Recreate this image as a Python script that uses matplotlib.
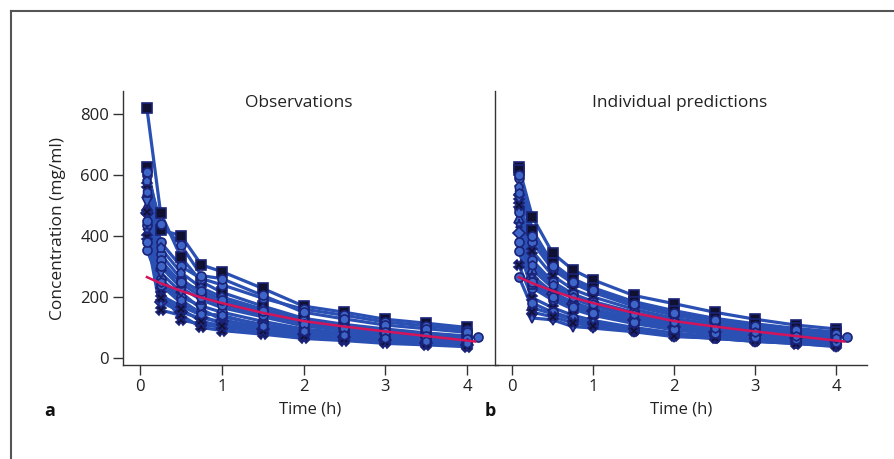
import matplotlib
matplotlib.use("Agg")
import matplotlib.pyplot as plt
from matplotlib.lines import Line2D

plt.rcParams['font.family'] = ['Open Sans', 'DejaVu Sans']

# ---------------- data ----------------
times = [0.083, 0.25, 0.5, 0.75, 1.0, 1.5, 2.0, 2.5, 3.0, 3.5, 4.0]
times_late = [0.083, 0.25, 0.5, 0.75, 1.0, 1.5, 2.0, 2.5, 3.0, 3.5, 4.13]

observed = [
    [818, 476, 330, 250, 215, 170, 130, 110, 95, 82, 72],
    [627, 420, 401, 305, 283, 228, 170, 150, 127, 114, 100],
    [600, 380, 300, 260, 240, 196, 160, 140, 118, 105, 92],
    [568, 223, 125, 110, 100, 85, 70, 62, 55, 48, 42],
    [530, 340, 260, 210, 180, 150, 120, 100, 88, 75, 68],
    [497, 300, 230, 190, 165, 135, 105, 90, 78, 66, 58],
    [474, 185, 150, 130, 120, 95, 80, 68, 58, 50, 44],
    [436, 260, 200, 170, 150, 120, 95, 82, 70, 60, 52],
    [398, 157, 140, 100, 90, 78, 64, 57, 48, 43, 37],
    [354, 240, 180, 150, 135, 110, 90, 78, 66, 57, 50],
    [510, 280, 215, 160, 125, 100, 85, 72, 62, 54, 47],
    [450, 320, 245, 200, 175, 142, 115, 95, 82, 70, 61],
    [580, 360, 280, 230, 200, 160, 125, 105, 92, 80, 70],
    [420, 205, 170, 140, 110, 90, 75, 65, 56, 49, 43],
    [610, 440, 370, 270, 260, 205, 150, 128, 108, 96, 84],
    [480, 195, 160, 120, 105, 88, 72, 63, 52, 46, 40],
    [380, 300, 250, 220, 190, 155, 112, 98, 84, 72, 63],
    [545, 250, 190, 145, 140, 105, 88, 76, 65, 56, 49],
]

predicted = [
    [627, 463, 344, 289, 256, 205, 178, 150, 127, 108, 95],
    [615, 420, 310, 260, 230, 185, 155, 130, 112, 97, 85],
    [590, 380, 290, 245, 215, 170, 140, 118, 100, 87, 76],
    [529, 350, 270, 225, 200, 160, 130, 110, 95, 82, 72],
    [490, 320, 250, 210, 185, 150, 122, 103, 88, 76, 68],
    [460, 290, 230, 195, 170, 138, 112, 95, 81, 70, 61],
    [410, 260, 210, 178, 155, 125, 102, 86, 74, 64, 56],
    [349, 230, 190, 160, 140, 113, 92, 78, 67, 58, 51],
    [305, 197, 165, 140, 123, 100, 82, 70, 60, 52, 45],
    [267, 164, 145, 125, 110, 90, 75, 65, 56, 49, 42],
    [520, 131, 125, 103, 98, 86, 70, 65, 54, 48, 37],
    [480, 180, 150, 130, 115, 95, 78, 68, 58, 50, 44],
    [560, 240, 200, 170, 150, 122, 100, 85, 73, 63, 55],
    [440, 270, 215, 183, 160, 130, 106, 90, 77, 67, 58],
    [600, 400, 300, 250, 222, 178, 146, 124, 105, 92, 80],
    [500, 150, 135, 115, 104, 88, 73, 64, 55, 47, 40],
    [380, 250, 200, 168, 148, 118, 96, 82, 70, 61, 53],
    [540, 305, 240, 200, 178, 143, 117, 99, 85, 73, 64],
]

late_subject = 4  # index of the subject sampled last at 4.13 h

mean_times = [0.083, 0.25, 0.5, 0.75, 1.0, 1.5, 2.0, 2.5, 3.0, 3.5, 4.0, 4.1]
mean_curve = [265, 245, 220, 198, 180, 148, 121, 103, 87, 72, 57, 54]

markers = ['s', 's', 'o', 'X', 'o', '^', 'D', 'o', 'X', 'o', 'v', 'o', 'p',
           '*', 'o', 'X', 'o', 'h']
black_face = [True, True, False, True, False, False, False, False, True,
              False, False, False, False, False, False, True, False, False]

panel_titles = ["Observations", "Individual predictions"]
panel_letters = ["a", "b"]
xticks = [0, 1, 2, 3, 4]
yticks = [0, 200, 400, 600, 800]

# ---------------- figure ----------------
W, H = 895, 459
fig = plt.figure(figsize=(W / 100, H / 100), dpi=100)

line_col = '#2a50b4'
edge_col = '#1a2378'
face_col = '#3d66c8'
red_col = '#d4145a'

axL = fig.add_axes([123 / W, 1 - 365 / H, 375 / W, 274 / H])
axR = fig.add_axes([495 / W, 1 - 365 / H, 372 / W, 274 / H])

for ax, data, title, letter in zip([axL, axR], [observed, predicted],
                                   panel_titles, panel_letters):
    ax.patch.set_alpha(0)
    for i, vals in enumerate(data):
        t = times_late if i == late_subject else times
        ax.plot(t, vals, color=line_col, lw=2.3, zorder=2)
        fc = '#101030' if black_face[i] else face_col
        ax.plot(t, vals, linestyle='none', marker=markers[i], ms=6.5,
                mfc=fc, mec=edge_col, mew=1.2, zorder=3)
    ax.plot(mean_times, mean_curve, color=red_col, lw=1.8, zorder=4)

    ax.set_xlim(-0.21, 4.38)
    ax.set_ylim(-23, 875)
    ax.set_xticks(xticks)
    ax.set_xticklabels([str(x) for x in xticks])
    for s in ['top', 'right']:
        ax.spines[s].set_visible(False)
    for s in ['left', 'bottom']:
        ax.spines[s].set_color('#333333')
        ax.spines[s].set_linewidth(1.0)
    ax.tick_params(axis='both', direction='out', length=7, width=1.0,
                   color='#333333', labelsize=12, labelcolor='#222222', pad=3)
    ax.set_xlabel("Time (h)", fontsize=12, color='#222222', labelpad=5)
    ax.text(0.47 if ax is axL else 0.495, 0.985, title, transform=ax.transAxes,
            ha='center', va='top', fontsize=12.5, color='#222222')

axL.set_yticks(yticks)
axL.set_yticklabels([str(y) for y in yticks])
axL.set_ylabel("Concentration (mg/ml)", fontsize=12.5, color='#222222', labelpad=10)
axR.set_yticks([])

fig.text(50 / W, 1 - 411 / H, "a", fontsize=13, fontweight='bold',
         ha='center', va='center', color='#111111')
fig.text(490 / W, 1 - 411 / H, "b", fontsize=13, fontweight='bold',
         ha='center', va='center', color='#111111')

# outer frame (left and top edges)
fig.add_artist(Line2D([11 / W, 11 / W], [0, 1 - 11 / H], transform=fig.transFigure,
                      color='#555555', lw=1.5))
fig.add_artist(Line2D([11 / W, 1], [1 - 11 / H, 1 - 11 / H], transform=fig.transFigure,
                      color='#555555', lw=1.5))

fig.savefig("out.png", dpi=100)
